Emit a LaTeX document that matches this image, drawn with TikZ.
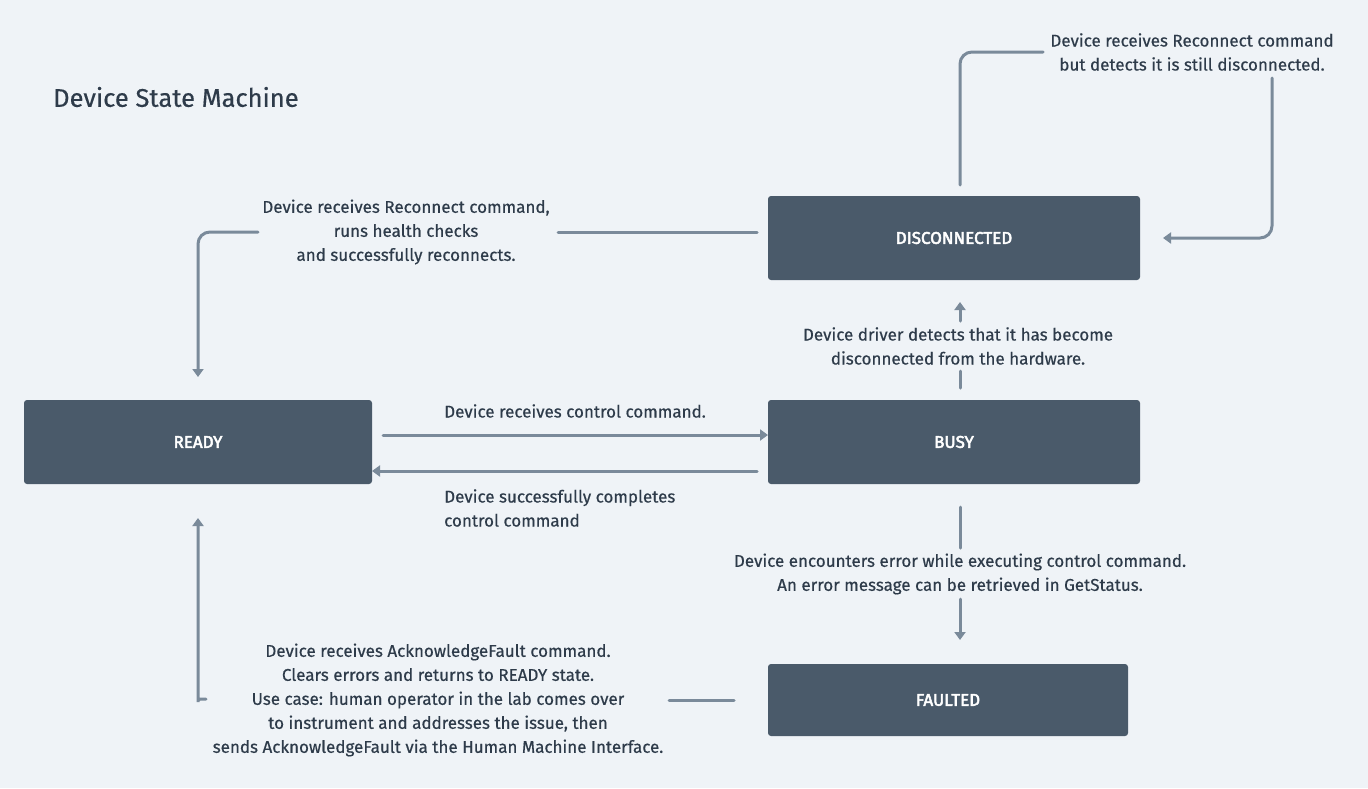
\documentclass[tikz,border=0pt]{standalone}
\usepackage{fontspec}
\setmainfont{Fira Sans}[FakeBold=0.5]
\newfontfamily\boxfont{Fira Sans}[FakeBold=3]
\usetikzlibrary{arrows.meta}
\definecolor{bg}{HTML}{EFF3F7}
\definecolor{boxc}{HTML}{4A5A6A}
\definecolor{txt}{HTML}{2E3B4A}
\definecolor{linec}{HTML}{7A8A9A}
\begin{document}
\begin{tikzpicture}[x=1pt,y=-1pt,
  state/.style={fill=boxc, rounded corners=3pt, text=white, font=\boxfont\fontsize{17}{20}\selectfont, inner sep=0pt},
  lbl/.style={text=txt, font=\fontsize{17}{24}\selectfont, align=center, inner sep=0pt},
  conn/.style={draw=linec, line width=3pt, rounded corners=12pt, line cap=round},
  arr/.style={conn, -{Triangle[width=11pt,length=8pt]}}
]
\path[fill=bg] (0,0) rectangle (1368,788);
\useasboundingbox (0,0) rectangle (1368,788);

\node[text=txt, font=\fontsize{25.5}{28}\selectfont, anchor=west, inner sep=0pt] (title) at (53,97) {Device State Machine};

\node[state, minimum width=372pt, minimum height=84pt] (disc) at (954,238) {DISCONNECTED};
\node[state, minimum width=348pt, minimum height=84pt] (ready) at (198,442) {READY};
\node[state, minimum width=372pt, minimum height=84pt] (busy) at (954,442) {BUSY};
\node[state, minimum width=360pt, minimum height=72pt] (fault) at (948,700) {FAULTED};

\node[lbl] (lself) at (1192,52) {Device receives Reconnect command\\but detects it is still disconnected.};
\node[lbl] (lrec) at (406,232) {Device receives Reconnect command,\\runs health checks\\and successfully reconnects.};
\node[lbl, anchor=west] (lctl) at (444,411) {Device receives control command.};
\node[lbl, anchor=west, align=left] (ldone) at (444,508) {Device successfully completes\\control command};
\node[lbl] (ldrv) at (958,346) {Device driver detects that it has become\\disconnected from the hardware.};
\node[lbl] (lerr) at (960,574) {Device encounters error while executing control command.\\An error message can be retrieved in GetStatus.};
\node[lbl] (lack) at (438,700) {Device receives AcknowledgeFault command.\\Clears errors and returns to READY state.\\Use case: human operator in the lab comes over\\to instrument and addresses the issue, then\\sends AcknowledgeFault via the Human Machine Interface.};

% self loop on DISCONNECTED
\coordinate (s1) at (960,185);
\coordinate (s2) at (1043,52);
\coordinate (s3) at (1272,78);
\coordinate (s4) at (1163,238);
\draw[conn] (s1) |- (s2);
\draw[arr] (s3) |- (s4);

% DISCONNECTED -> READY
\coordinate (r1) at (757,232);
\coordinate (r2) at (558,232);
\coordinate (r3) at (258,232);
\coordinate (r4) at (198,377);
\draw[conn] (r1) -- (r2);
\draw[arr] (r3) -| (r4);

% READY -> BUSY
\coordinate (c1) at (383,435);
\coordinate (c2) at (768,435);
\draw[arr] (c1) -- (c2);

% BUSY -> READY
\coordinate (d1) at (757,471);
\coordinate (d2) at (372,471);
\draw[arr] (d1) -- (d2);

% BUSY -> DISCONNECTED
\coordinate (b1) at (960,388);
\coordinate (b2) at (960,371);
\coordinate (b3) at (960,321);
\coordinate (b4) at (960,302);
\draw[conn] (b1) -- (b2);
\draw[arr] (b3) -- (b4);

% BUSY -> FAULTED
\coordinate (e1) at (960,507);
\coordinate (e2) at (960,548);
\coordinate (e3) at (960,599);
\coordinate (e4) at (960,640);
\draw[conn] (e1) -- (e2);
\draw[arr] (e3) -- (e4);

% FAULTED -> READY
\coordinate (f1) at (734,700);
\coordinate (f2) at (669,700);
\coordinate (f3) at (206,699);
\coordinate (f4) at (198,518);
\draw[conn] (f1) -- (f2);
\draw[arr] (f3) .. controls (198,699) and (198,699) .. (198,690) -- (f4);
\end{tikzpicture}
\end{document}
